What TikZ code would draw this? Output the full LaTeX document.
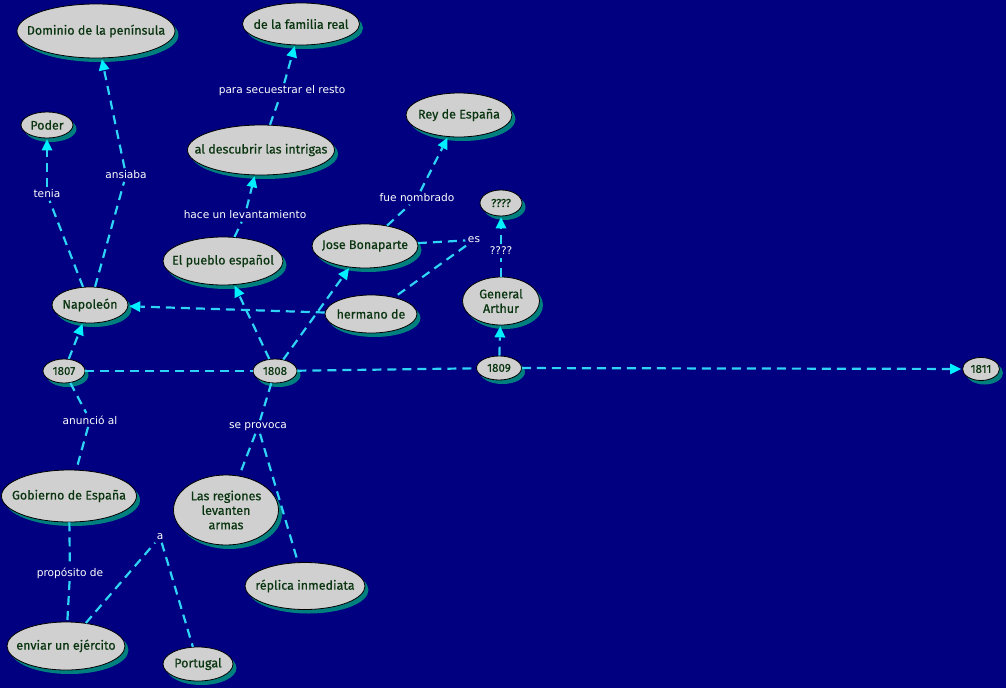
\documentclass[tikz,border=0pt]{standalone}
\usepackage{fontspec}
\setmainfont{Fira Sans}
\newfontfamily\conceptfont{Fira Sans}[FakeBold=0.6]
\newfontfamily\phrasefont{DejaVu Sans}
\usetikzlibrary{arrows.meta,shapes.geometric,shadows}
\definecolor{Night}{HTML}{000080}
\definecolor{Concept}{HTML}{D0D0D0}
\definecolor{ConceptText}{HTML}{0A3510}
\definecolor{Shade}{HTML}{007F7F}
\definecolor{Link}{HTML}{2ED3F5}
\definecolor{LinkTip}{HTML}{00F0FF}
\tikzset{
  concept/.style={ellipse,draw=black,fill=Concept,line width=.8pt,text=ConceptText,align=center,inner sep=-100pt,
    font=\conceptfont\fontsize{12.5}{14.5}\selectfont,
    drop shadow={shadow xshift=3.5pt,shadow yshift=-4pt,fill=Shade,opacity=1}},
  year/.style={concept,font=\conceptfont\fontsize{11.5}{13}\selectfont},
  phrase/.style={text=white,font=\phrasefont\fontsize{10.6}{12.5}\selectfont,inner sep=2.5pt},
  link/.style={draw=Link,line width=2.2pt,dash pattern=on 9pt off 6pt},
  linkto/.style={link,-{Triangle[length=11pt,width=11pt,line width=0pt,fill=LinkTip]},shorten >=1pt}
}
\begin{document}
\begin{tikzpicture}[x=1pt,y=-1pt]
  \fill[Night] (0,0) rectangle (1006,688);
  \useasboundingbox (0,0) rectangle (1006,688);
  % concepts
  \node[concept,minimum width=158pt,minimum height=54pt] (dominio) at (96,31) {Dominio de la península};
  \node[concept,minimum width=117pt,minimum height=42pt] (familia) at (301,24) {de la familia real};
  \node[concept,minimum width=52pt,minimum height=26pt] (poder) at (47,125) {Poder};
  \node[concept,minimum width=147pt,minimum height=50pt] (intrigas) at (261,150) {al descubrir las intrigas};
  \node[concept,minimum width=106pt,minimum height=44pt] (rey) at (459,115) {Rey de España};
  \node[year,minimum width=42pt,minimum height=26pt] (duda) at (501,203) {????};
  \node[concept,minimum width=106pt,minimum height=44pt] (jose) at (365,246) {Jose Bonaparte};
  \node[concept,minimum width=120pt,minimum height=48pt] (pueblo) at (223,261) {El pueblo español};
  \node[concept,minimum width=92pt,minimum height=38pt] (hermano) at (371,314) {hermano de};
  \node[concept,minimum width=77pt,minimum height=48pt] (arthur) at (501,301) {General\\Arthur};
  \node[concept,minimum width=76pt,minimum height=36pt] (napoleon) at (90,305) {Napoleón};
  \node[year,minimum width=42pt,minimum height=24pt] (y1807) at (64,371) {1807};
  \node[year,minimum width=44pt,minimum height=24pt] (y1808) at (275,371) {1808};
  \node[year,minimum width=45pt,minimum height=24pt] (y1809) at (499,368) {1809};
  \node[year,minimum width=37pt,minimum height=23pt] (y1811) at (981,369) {1811};
  \node[concept,minimum width=135pt,minimum height=52pt] (gobierno) at (69,496) {Gobierno de España};
  \node[concept,minimum width=105pt,minimum height=70pt] (regiones) at (226,510) {Las regiones\\levanten\\armas};
  \node[concept,minimum width=120pt,minimum height=47pt] (replica) at (305,586) {réplica inmediata};
  \node[concept,minimum width=118pt,minimum height=48pt] (enviar) at (66,646) {enviar un ejército};
  \node[concept,minimum width=70pt,minimum height=34pt] (portugal) at (198,664) {Portugal};
  % linking phrases
  \node[phrase] (tenia) at (47,194) {tenia};
  \node[phrase] (ansiaba) at (126,175) {ansiaba};
  \node[phrase] (secuestrar) at (282,91) {para secuestrar el resto};
  \node[phrase] (levantamiento) at (245,215) {hace un levantamiento};
  \node[phrase] (nombrado) at (417,198) {fue nombrado};
  \node[phrase] (es) at (474,240) {es};
  \node[phrase] (pregunta) at (501,251) {????};
  \node[phrase] (anuncio) at (90,420) {anunció al};
  \node[phrase] (provoca) at (258,427) {se provoca};
  \node[phrase] (proposito) at (70,573) {propósito de};
  \node[phrase] (a) at (160,537) {a};
  % connectors
  \draw[link] (napoleon) -- (tenia);
  \draw[linkto] (tenia) -- (poder);
  \draw[link] (napoleon) -- (ansiaba);
  \draw[linkto] (ansiaba) -- (dominio);
  \draw[link] (pueblo) -- (levantamiento);
  \draw[linkto] (levantamiento) -- (intrigas);
  \draw[link] (intrigas) -- (secuestrar);
  \draw[linkto] (secuestrar) -- (familia);
  \draw[link] (jose) -- (nombrado);
  \draw[linkto] (nombrado) -- (rey);
  \draw[link] (jose) -- (es);
  \draw[link] (es) -- (hermano);
  \draw[linkto] (hermano) -- (napoleon);
  \draw[link] (arthur) -- (pregunta);
  \draw[linkto] (pregunta) -- (duda);
  \draw[linkto] (y1809) -- (arthur);
  \draw[linkto] (y1807) -- (napoleon);
  \draw[link] (y1807) -- (y1808);
  \draw[link] (y1808) -- (y1809);
  \draw[linkto] (y1809) -- (y1811);
  \draw[linkto] (y1808) -- (pueblo);
  \draw[linkto] (y1808) -- (jose);
  \draw[link] (y1807) -- (anuncio);
  \draw[link] (anuncio) -- (gobierno);
  \draw[link] (y1808) -- (provoca);
  \draw[link] (provoca) -- (regiones);
  \draw[link] (provoca) -- (replica);
  \draw[link] (gobierno) -- (proposito);
  \draw[link] (proposito) -- (enviar);
  \draw[link] (enviar) -- (a);
  \draw[link] (a) -- (portugal);
\end{tikzpicture}
\end{document}
